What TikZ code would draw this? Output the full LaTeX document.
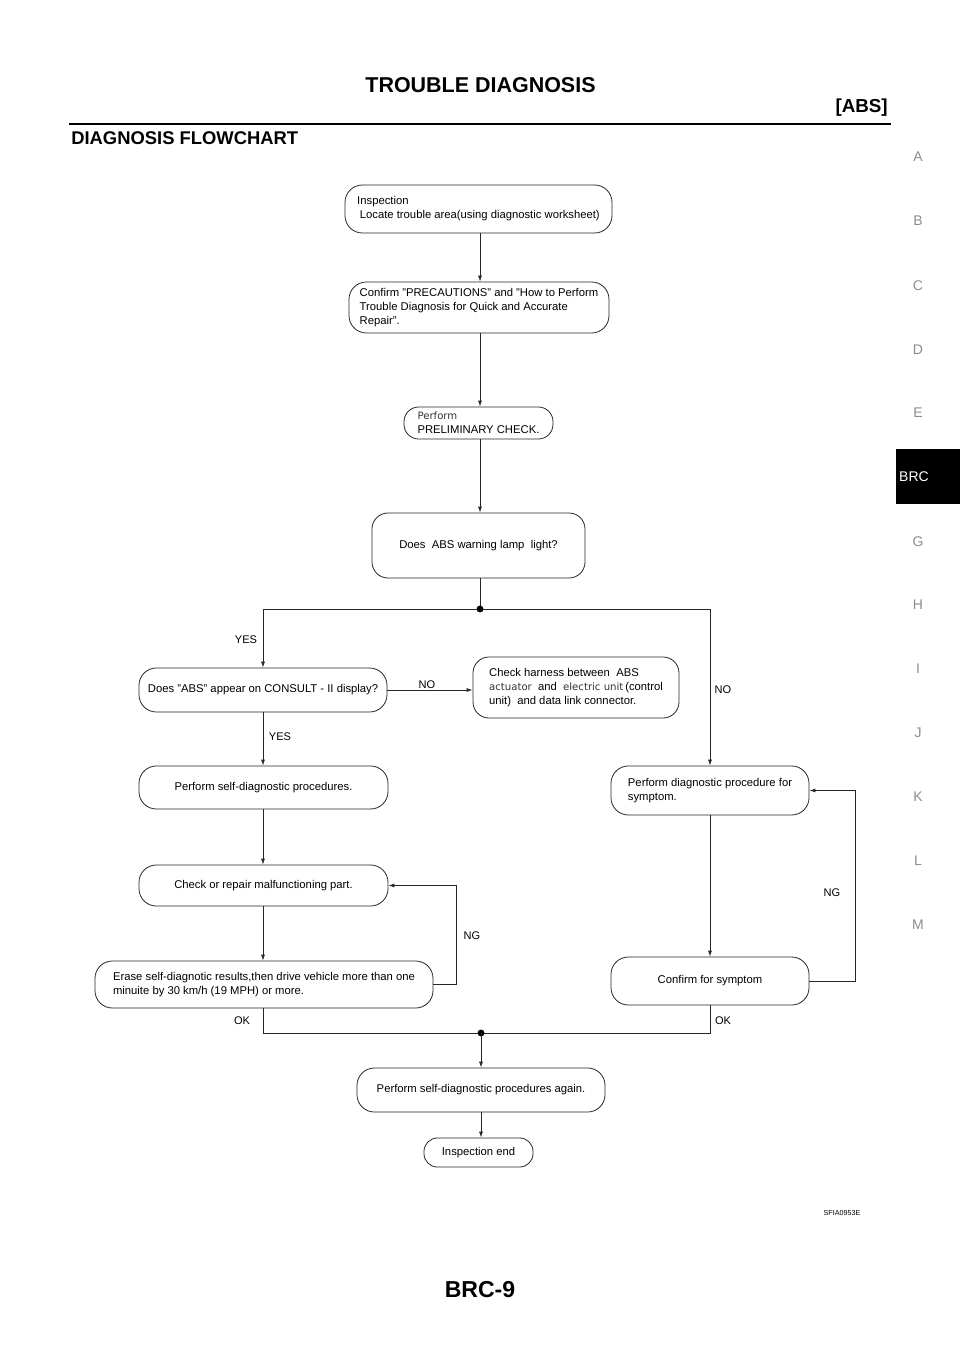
\documentclass[tikz,border=0pt]{standalone}
\usepackage{fontspec}
\setmainfont{Liberation Sans}
\newfontfamily\altfont{DejaVu Sans}
\usetikzlibrary{arrows.meta}
\newcommand\flowfont{\fontsize{8.45}{10.6}\selectfont}
\newcommand\altw[1]{{\altfont\fontsize{7.6}{10.6}\selectfont\color{black!80}#1}}
\begin{document}
\begin{tikzpicture}[x=0.75pt,y=-0.75pt,
  box/.style={draw=black!85, line width=0.6pt, rounded corners=13pt, inner sep=0pt,
    font=\flowfont, align=center, minimum width=#1},
  lbl/.style={inner sep=0pt, font=\fontsize{8.3}{10}\selectfont},
  ln/.style={draw=black!85, line width=0.6pt},
  arr/.style={ln, -{Latex[length=4.5pt,width=3pt]}},
  tab/.style={inner sep=0pt, text=black!45, font=\fontsize{10.5}{12}\selectfont}]
\useasboundingbox (0,0) rectangle (960,1358);
% ---------- page header ----------
\node[inner sep=0pt, font=\bfseries\fontsize{16.1}{18}\selectfont] (title) at (480.5,85.5) {TROUBLE DIAGNOSIS};
\node[inner sep=0pt, anchor=east, font=\bfseries\fontsize{14.1}{16}\selectfont] (absh) at (888,108) {[ABS]};
\draw[line width=2.2pt] (69,124) -- (891,124);
\node[inner sep=0pt, anchor=west, font=\bfseries\fontsize{13.8}{16}\selectfont] (sub) at (71,138) {DIAGNOSIS FLOWCHART};
% ---------- side tabs ----------
\foreach \l/\yy in {A/157,B/221,C/286,D/350,E/413,G/542,H/605,I/669,J/733,K/797,L/861,M/925}
  \node[tab] (tab\l) at (918,\yy) {\l};
\fill[black] (896,449) rectangle (960,504);
\node[tab, text=white] (tabBRC) at (914,477) {BRC};
% ---------- footer ----------
\node[inner sep=0pt, font=\bfseries\fontsize{17.3}{20}\selectfont] (page) at (480,1290) {BRC-9};
\node[inner sep=0pt, font=\fontsize{5.4}{6}\selectfont] (code) at (842,1213) {SFIA0953E};
% ---------- flowchart boxes ----------
\coordinate (cx) at (480,0);
\coordinate (lc) at (263,0);
\coordinate (rc) at (710,0);
\node[box=200.25pt, minimum height=36pt, align=left] (insp) at (478.5,209)
  {Inspection\\\hspace*{2pt}Locate trouble area(using diagnostic worksheet)};
\node[box=195pt, minimum height=38.25pt, align=left] (conf) at (479,307.5)
  {Confirm "PRECAUTIONS" and "How to Perform\\Trouble Diagnosis for Quick and Accurate\\Repair".};
\node[box=111.75pt, minimum height=24pt, align=left, rounded corners=11pt] (prel) at (478.5,423)
  {\altw{Perform}\\PRELIMINARY CHECK.};
\node[box=159.75pt, minimum height=48.75pt, rounded corners=12pt] (lamp) at (478.5,545.5)
  {Does\ \ ABS warning lamp\ \ light?};
\node[box=186pt, minimum height=33pt] (cons) at (263,690)
  {Does "ABS" appear on CONSULT - II display?};
\node[box=154.5pt, minimum height=45.75pt, align=left, rounded corners=12pt] (harn) at (576,687.5)
  {Check harness between\ \ ABS\\\altw{actuator}\ \ and\ \ \altw{electric unit}\,(control\\unit)\ \ and data link connector.};
\node[box=186.75pt, minimum height=32.25pt] (self) at (263.5,787.5)
  {Perform self-diagnostic procedures.};
\node[box=186.75pt, minimum height=30.75pt] (rep) at (263.5,885.5)
  {Check or repair malfunctioning part.};
\node[box=253.5pt, minimum height=35.25pt, align=left] (erase) at (264,984.5)
  {Erase self-diagnotic results,then drive vehicle more than one\\minuite by 30 km/h (19 MPH) or more.};
\node[box=148.5pt, minimum height=36.75pt, align=left] (diag) at (710,790.5)
  {Perform diagnostic procedure for\\symptom.};
\node[box=148.5pt, minimum height=36pt] (symp) at (710,981)
  {Confirm for symptom};
\node[box=186pt, minimum height=33pt] (again) at (481,1090)
  {Perform self-diagnostic procedures again.};
\node[box=81.75pt, minimum height=21.75pt, rounded corners=10pt] (end) at (478.5,1152.5)
  {Inspection end};
% ---------- connectors ----------
\draw[arr] (insp.south -| cx) -- (conf.north -| cx);
\draw[arr] (conf.south -| cx) -- (prel.north -| cx);
\draw[arr] (prel.south -| cx) -- (lamp.north -| cx);
\coordinate (j1) at (480,609);
\draw[ln] (lamp.south -| cx) -- (j1);
\draw[arr] (j1) -| (cons.north -| lc);
\draw[arr] (j1) -| (diag.north -| rc);
\fill[black] (j1) circle[radius=2.6pt];
\draw[arr] (cons.east) -- (cons.east -| harn.west);
\draw[arr] (cons.south -| lc) -- (self.north -| lc);
\draw[arr] (self.south -| lc) -- (rep.north -| lc);
\draw[arr] (rep.south -| lc) -- (erase.north -| lc);
\coordinate (ng1) at (456,0);
\draw[arr] (erase.east) -| (ng1 |- rep.east) -- (rep.east);
\draw[arr] (diag.south -| rc) -- (symp.north -| rc);
\coordinate (ng2) at (855,0);
\draw[arr] (symp.east) -| (ng2 |- diag.east) -- (diag.east);
\coordinate (j2) at (481,1033);
\draw[ln] (erase.south -| lc) |- (j2);
\draw[ln] (symp.south -| rc) |- (j2);
\fill[black] (j2) circle[radius=2.6pt];
\draw[arr] (j2) -- (again.north -| j2);
\draw[arr] (again.south -| j2) -- (end.north -| j2);
% ---------- connector labels ----------
\node[lbl] (yes1) at (246,640) {YES};
\node[lbl] (no1) at (427,685) {NO};
\node[lbl] (no2) at (723,690) {NO};
\node[lbl] (yes2) at (280,737) {YES};
\node[lbl] (ngl) at (472,936) {NG};
\node[lbl] (ngr) at (832,893) {NG};
\node[lbl] (okl) at (242,1021) {OK};
\node[lbl] (okr) at (723,1021) {OK};
\end{tikzpicture}
\end{document}
